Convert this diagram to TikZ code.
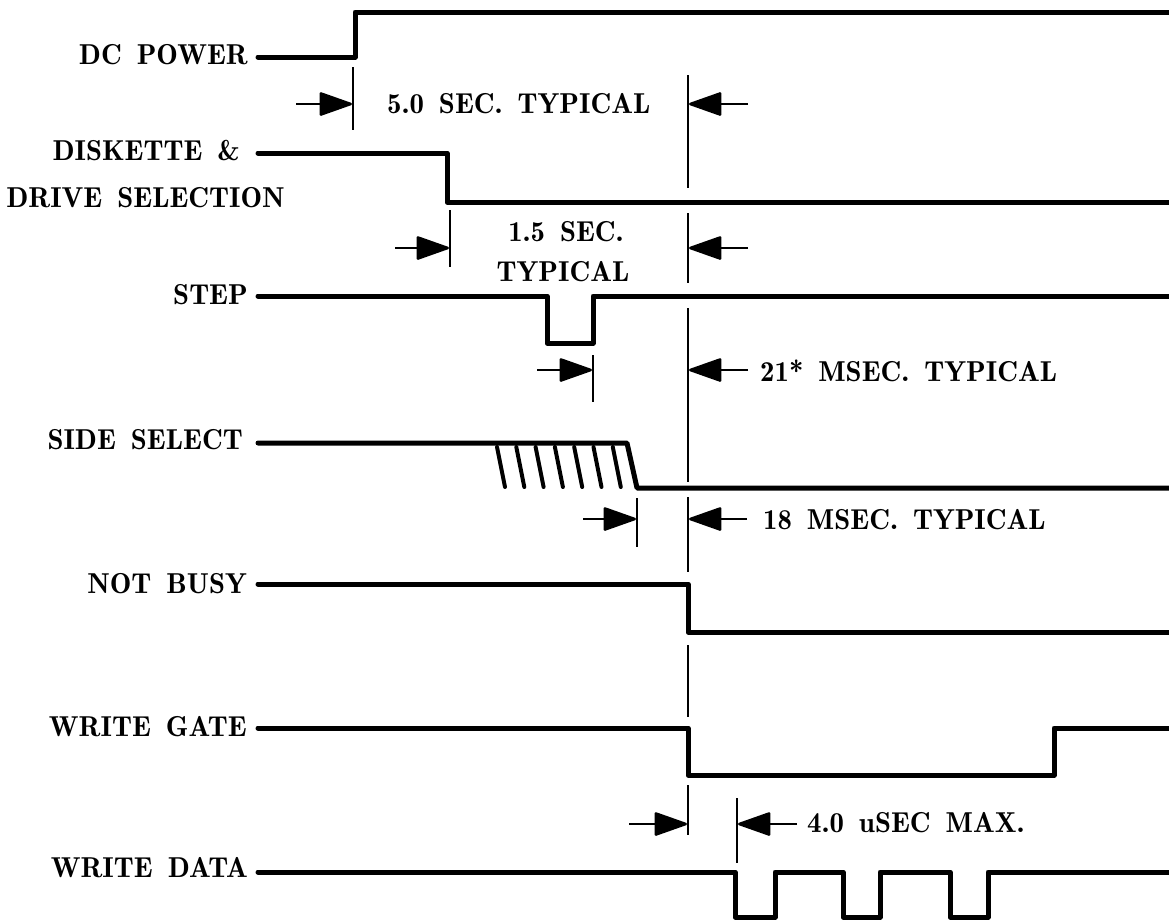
\documentclass[tikz,border=0pt]{standalone}
\usetikzlibrary{arrows.meta}
\newcommand{\sigfont}{\fontsize{28.8}{33}\fontseries{b}\selectfont\spaceskip=0.52em plus 0.1em}
\begin{document}
\begin{tikzpicture}[x=1pt,y=-1pt,
  sig/.style={line width=5pt, line cap=round, line join=round},
  hatch/.style={line width=4pt, line cap=round},
  refl/.style={line width=2pt},
  dimarrow/.style={line width=2.5pt, -{Triangle[length=35pt,width=24pt,round]}},
  lbl/.style={font=\sigfont, inner sep=0pt, anchor=east},
  note/.style={font=\sigfont, inner sep=0pt, anchor=west}]
\useasboundingbox (0,0) rectangle (1169,921);

% signal labels
\node[lbl] (lDC) at (248,55) {DC POWER};
\node[lbl] (lDK) at (240,151) {DISKETTE \&};
\node[lbl] (lDR) at (285,198) {DRIVE SELECTION};
\node[lbl] (lST) at (248,295) {STEP};
\node[lbl] (lSS) at (243,440) {SIDE SELECT};
\node[lbl] (lNB) at (247,584) {NOT BUSY};
\node[lbl] (lWG) at (247,727) {WRITE GATE};
\node[lbl] (lWD) at (248,868) {WRITE DATA};

% waveforms
\draw[sig] (258,57) -- (355,57) -- (355,12) -- (1172,12);
\draw[sig] (258,153) -- (447,153) -- (447,202) -- (1172,202);
\draw[sig] (258,296) -- (547,296) -- (547,343) -- (593,343) -- (593,296) -- (1172,296);
\draw[sig] (258,443) -- (627,443) -- (637,488) -- (1172,488);
\foreach \i in {0,...,6}{
  \draw[hatch] ({497+19.3*\i},447) -- ({505+19.3*\i},487);
}
\draw[sig] (258,584) -- (688,584) -- (688,632) -- (1172,632);
\draw[sig] (258,728) -- (688,728) -- (688,775) -- (1054,775) -- (1054,728) -- (1172,728);
\draw[sig] (258,872) -- (735,872) -- (735,917) -- (775,917) -- (775,872)
  -- (843,872) -- (843,917) -- (880,917) -- (880,872)
  -- (950,872) -- (950,917) -- (988,917) -- (988,872) -- (1172,872);

% reference line segments at x = 688
\foreach \a/\b in {75/188, 213/283, 308/482, 497/572, 645/717, 785/835}{
  \draw[refl] (688,\a) -- (688,\b);
}
% other marker lines
\draw[refl] (353,67) -- (353,130);
\draw[refl] (450,210) -- (450,267);
\draw[refl] (593,355) -- (593,402);
\draw[refl] (637,498) -- (637,547);
\draw[refl] (737,798) -- (737,863);

% dimension arrows
\coordinate (a1t) at (296,104); \coordinate (a1h) at (352,104);
\coordinate (b1t) at (748,104); \coordinate (b1h) at (689,104);
\coordinate (a2t) at (395,248); \coordinate (a2h) at (449,248);
\coordinate (b2t) at (748,248); \coordinate (b2h) at (689,248);
\coordinate (a3t) at (537,370); \coordinate (a3h) at (592,370);
\coordinate (b3t) at (748,370); \coordinate (b3h) at (689,370);
\coordinate (a4t) at (583,519); \coordinate (a4h) at (636,519);
\coordinate (b4t) at (747,519); \coordinate (b4h) at (689,519);
\coordinate (a5t) at (629,824); \coordinate (a5h) at (687,824);
\coordinate (b5t) at (797,824); \coordinate (b5h) at (738,824);
\foreach \n in {1,...,5}{
  \draw[dimarrow] (a\n t) -- (a\n h);
  \draw[dimarrow] (b\n t) -- (b\n h);
}

% timing notes
\node[note] (t1) at (387,104) {5.0 SEC. TYPICAL};
\node[note, anchor=center] (t2a) at (566,232) {1.5 SEC.};
\node[note, anchor=center] (t2b) at (563,272) {TYPICAL};
\node[note] (t3) at (760,371) {21* MSEC. TYPICAL};
\node[note] (t4) at (763,520) {18 MSEC. TYPICAL};
\node[note] (t5) at (807,823) {4.0 uSEC MAX.};
\end{tikzpicture}
\end{document}
